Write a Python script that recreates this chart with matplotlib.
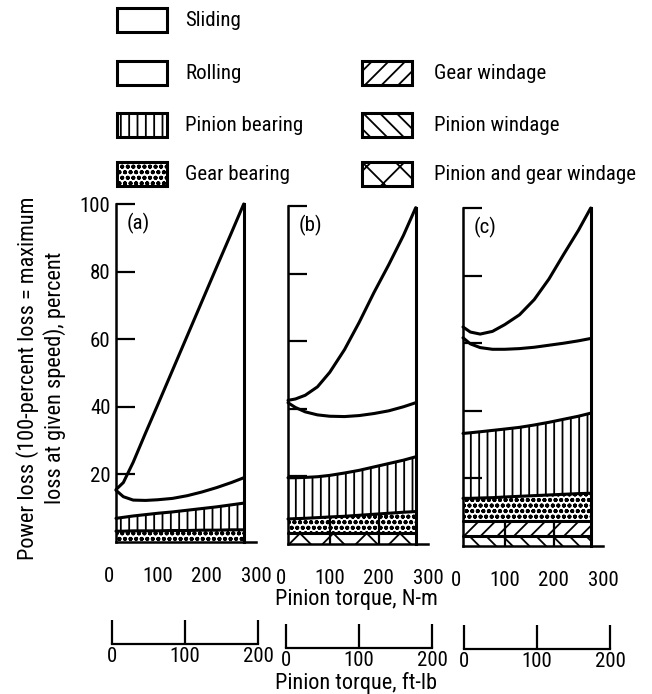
import numpy as np
import matplotlib
matplotlib.use("Agg")
import matplotlib.pyplot as plt
from matplotlib import font_manager
from matplotlib.patches import Rectangle

W, H = 652, 694

# ---- data: cumulative power loss (percent of max loss) vs pinion torque, N-m
torque = [15, 30, 50, 75, 100, 130, 160, 190, 220, 250, 275]

# (a) top of each layer, bottom layer first
a_gear_brg = [3.2, 3.2, 3.3, 3.3, 3.3, 3.4, 3.4, 3.5, 3.5, 3.6, 3.6]
a_pin_brg = [7.0, 7.3, 7.7, 8.1, 8.5, 8.9, 9.4, 9.9, 10.4, 11.0, 11.5]
a_rolling = [15.3, 13.4, 12.4, 12.3, 12.5, 12.9, 13.7, 14.8, 16.1, 17.6, 19.0]
a_total = [15.5, 17.6, 23.6, 32.2, 40.6, 50.8, 61.0, 71.2, 81.4, 91.5, 100.0]

# (b)
b_pg_wind = [3.3, 3.3, 3.3, 3.3, 3.3, 3.3, 3.3, 3.3, 3.3, 3.3, 3.3]
b_gear_brg = [7.4, 7.5, 7.6, 7.8, 8.0, 8.2, 8.5, 8.8, 9.1, 9.4, 9.6]
b_pin_brg = [19.6, 19.6, 19.7, 19.9, 20.3, 21.0, 21.8, 22.8, 23.8, 24.8, 25.8]
b_rolling = [41.8, 40.4, 39.1, 38.2, 37.8, 37.7, 38.0, 38.6, 39.4, 40.6, 41.8]
b_total = [42.5, 42.9, 44.0, 46.5, 50.8, 57.5, 65.6, 74.4, 82.6, 91.3, 99.5]

# (c)
c_pin_wind = [3.1, 3.1, 3.1, 3.1, 3.1, 3.1, 3.1, 3.1, 3.1, 3.1, 3.1]
c_gear_wind = [7.3, 7.3, 7.3, 7.3, 7.3, 7.3, 7.3, 7.3, 7.3, 7.3, 7.3]
c_gear_brg = [14.1, 14.1, 14.2, 14.3, 14.5, 14.7, 14.9, 15.1, 15.3, 15.5, 15.6]
c_pin_brg = [33.3, 33.5, 33.8, 34.2, 34.6, 35.1, 35.8, 36.6, 37.5, 38.4, 39.3]
c_rolling = [61.6, 59.8, 58.7, 58.2, 58.2, 58.4, 58.8, 59.4, 60.0, 60.7, 61.4]
c_total = [64.8, 63.3, 62.7, 63.5, 65.5, 68.4, 72.9, 79.0, 86.3, 93.4, 100.0]

nm_ticks = [0, 100, 200, 300]
ftlb_ticks = [0, 100, 200]
y_ticks = [20, 40, 60, 80, 100]

HATCH = {"Sliding": "", "Rolling": "", "Pinion bearing": "||",
         "Gear bearing": "ooo", "Gear windage": "//", "Pinion windage": "\\\\",
         "Pinion and gear windage": "x"}

panels = [
    ("(a)", [(a_gear_brg, "Gear bearing"), (a_pin_brg, "Pinion bearing"),
             (a_rolling, "Rolling"), (a_total, "Sliding")], None),
    ("(b)", [(b_pg_wind, "Pinion and gear windage"), (b_gear_brg, "Gear bearing"),
             (b_pin_brg, "Pinion bearing"), (b_rolling, "Rolling"), (b_total, "Sliding")], b_gear_brg),
    ("(c)", [(c_pin_wind, "Pinion windage"), (c_gear_wind, "Gear windage"),
             (c_gear_brg, "Gear bearing"), (c_pin_brg, "Pinion bearing"),
             (c_rolling, "Rolling"), (c_total, "Sliding")], c_gear_wind),
]

# ---- style: a narrow sans if one is installed, else Liberation Sans (a bit smaller)
fonts = font_manager.fontManager.ttflist
have = {f.name: f for f in fonts}
fs_tick, fs_leg, fs_title = 13, 13, 13
plt.rcParams["font.family"] = ["Liberation Sans", "DejaVu Sans"]
for cand in ["Roboto Condensed", "Archivo Narrow", "PT Sans Narrow", "Asap Condensed",
             "Barlow Semi Condensed"]:
    if cand in have:
        plt.rcParams["font.family"] = [cand, "DejaVu Sans"]
        plt.rcParams["font.stretch"] = have[cand].stretch
        fs_tick, fs_leg, fs_title = 15, 15, 16
        break
plt.rcParams["hatch.linewidth"] = 1.3

fig = plt.figure(figsize=(W / 100, H / 100), dpi=100)


def px(x, y):
    return x / W, 1 - y / H


# legend drawn in an overlay axes in pixel coords
leg = fig.add_axes([0, 0, 1, 1])
leg.set_xlim(0, W)
leg.set_ylim(H, 0)
leg.axis("off")
leg.patch.set_visible(False)
rows = [20, 73, 125, 174]
legend_items = [("Sliding", 0, 0), ("Rolling", 0, 1), ("Pinion bearing", 0, 2), ("Gear bearing", 0, 3),
                ("Gear windage", 1, 1), ("Pinion windage", 1, 2), ("Pinion and gear windage", 1, 3)]
for name, col, row in legend_items:
    bx = [117, 362][col]
    leg.add_patch(Rectangle((bx, rows[row] - 12), 50, 24, facecolor="white", edgecolor="black",
                            hatch=HATCH[name], lw=2.2))
    leg.text(bx + [68, 72][col], rows[row], name, fontsize=fs_leg, va="center", ha="left")

# ---- the three panels
geom = [(116, 542, 204), (288, 544, 206), (463, 546, 208)]   # data-start x, y of 0, y of 100
scale = 140 / 285.0   # px per N-m
for i, (tag, layers, div_top) in enumerate(panels):
    x15, y0, y100 = geom[i]
    x0 = x15 - 15 * scale
    l, b = px(x0, y0)
    ax = fig.add_axes([l, b, 300 * scale / W, (y0 - y100) / H])
    ax.set_xlim(0, 300)
    ax.set_ylim(0, 100)

    lower = np.zeros(len(torque))
    for top, name in layers:
        top = np.array(top)
        ax.fill_between(torque, lower, top, facecolor="white", edgecolor="black",
                        hatch=HATCH[name], linewidth=0)
        ax.plot(torque, top, color="black", lw=2.2, clip_on=False, solid_capstyle="round")
        lower = top
    ax.plot([torque[-1], torque[-1]], [0, layers[-1][0][-1]], color="black", lw=2.2,
            clip_on=False)
    if div_top is not None:
        for t in (100, 200):
            ax.plot([t, t], [0, np.interp(t, torque, div_top)], color="black", lw=1.6)

    for s in ("top", "right"):
        ax.spines[s].set_visible(False)
    ax.spines["left"].set_position(("data", 15))
    ax.spines["left"].set_bounds(0, 100)
    ax.spines["bottom"].set_bounds(15, 300)
    for s in ("left", "bottom"):
        ax.spines[s].set_linewidth(1.8)

    ax.set_yticks(y_ticks)
    ax.tick_params(axis="y", direction="in", length=14, width=1.6, pad=4,
                   labelsize=fs_tick, labelleft=(i == 0))
    ax.set_xticks(nm_ticks)
    ax.set_xticks([300], minor=True)
    ax.tick_params(axis="x", which="major", length=0, pad=18, labelsize=fs_tick)
    ax.tick_params(axis="x", which="minor", direction="in", length=14, width=1.6)
    ax.patch.set_visible(False)

    fig.text(*px(x15 + 22, y100 + 19), tag, fontsize=fs_tick, ha="center", va="center")

# ---- ft-lb scales below
ftlb_geom = [(112, 258, 644), (286, 432, 648), (464, 610, 649)]
for xa, xb, yb in ftlb_geom:
    l, b = px(xa, yb)
    ax2 = fig.add_axes([l, b, (xb - xa) / W, 30 / H])
    ax2.set_xlim(0, 200)
    ax2.set_ylim(0, 1)
    for s in ("top", "right", "left"):
        ax2.spines[s].set_visible(False)
    ax2.spines["bottom"].set_linewidth(1.6)
    ax2.set_yticks([])
    ax2.set_xticks(ftlb_ticks)
    ax2.tick_params(axis="x", direction="in", length=17, width=1.6, pad=2, labelsize=fs_tick)
    ax2.patch.set_visible(False)

fig.text(*px(356, 600), "Pinion torque, N-m", fontsize=fs_title, ha="center", va="center")
fig.text(*px(356, 683), "Pinion torque, ft-lb", fontsize=fs_title, ha="center", va="center")
fig.text(*px(41, 378), "Power loss (100-percent loss = maximum\nloss at given speed), percent",
         fontsize=fs_title, rotation=90, ha="center", va="center", multialignment="center",
         linespacing=1.25)

fig.savefig("out.png", dpi=100)
